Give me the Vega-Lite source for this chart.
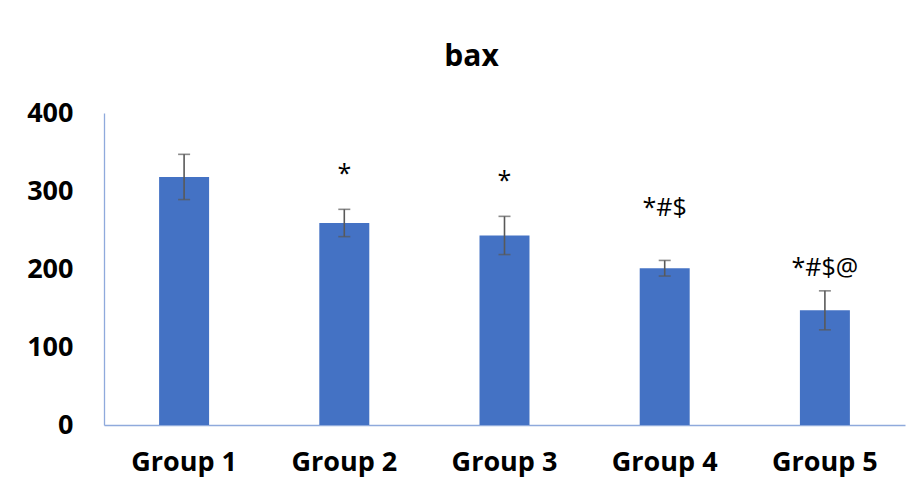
{
  "$schema": "https://vega.github.io/schema/vega-lite/v6.json",
  "width": 801,
  "height": 312,
  "autosize": {"type": "none"},
  "padding": {"left": 104, "top": 113, "right": 18, "bottom": 70},
  "background": "white",
  "config": {
    "view": {"stroke": null},
    "font": "Open Sans"
  },
  "title": {
    "text": "bax",
    "font": "Open Sans",
    "fontSize": 30,
    "fontWeight": "bold",
    "color": "black",
    "anchor": "middle",
    "frame": "group",
    "dx": -33,
    "offset": 27
  },
  "data": {
    "values": [
      {"Group": "Group 1", "value": 318, "err": 29, "label": "", "labelY": null},
      {"Group": "Group 2", "value": 259, "err": 17.5, "label": "*", "labelY": 311},
      {"Group": "Group 3", "value": 243, "err": 24.5, "label": "*", "labelY": 303},
      {"Group": "Group 4", "value": 201, "err": 10, "label": "*#$", "labelY": 268},
      {"Group": "Group 5", "value": 147, "err": 25, "label": "*#$@", "labelY": 191}
    ]
  },
  "encoding": {
    "x": {
      "field": "Group",
      "type": "nominal",
      "sort": null,
      "scale": {"paddingInner": 0, "paddingOuter": 0},
      "axis": {
        "title": null,
        "labelAngle": 0,
        "ticks": false,
        "labelFont": "Open Sans",
        "labelFontSize": 27,
        "labelFontWeight": "bold",
        "labelColor": "black",
        "labelPadding": 24,
        "domainColor": "#8FAADC",
        "domainWidth": 1.3
      }
    }
  },
  "layer": [
    {
      "mark": {"type": "bar", "color": "#4472C4", "width": {"band": 0.312}},
      "encoding": {
        "y": {
          "field": "value",
          "type": "quantitative",
          "scale": {"domain": [0, 400], "nice": false},
          "axis": {
            "title": null,
            "values": [0, 100, 200, 300, 400],
            "grid": false,
            "ticks": false,
            "labelFont": "Open Sans",
            "labelFontSize": 27,
            "labelFontWeight": "bold",
            "labelColor": "black",
            "labelPadding": 31,
            "domainColor": "#8FAADC",
            "domainWidth": 1.3
          }
        }
      }
    },
    {
      "mark": {"type": "errorbar", "ticks": {"size": 12}, "color": "#595959", "thickness": 1.6},
      "encoding": {
        "y": {"field": "value", "type": "quantitative", "title": null},
        "yError": {"field": "err"}
      }
    },
    {
      "transform": [{"filter": "datum.label != ''"}],
      "mark": {"type": "text", "font": "Open Sans", "fontSize": 25, "color": "black", "baseline": "alphabetic", "align": "center"},
      "encoding": {
        "y": {"field": "labelY", "type": "quantitative"},
        "text": {"field": "label"}
      }
    }
  ]
}
